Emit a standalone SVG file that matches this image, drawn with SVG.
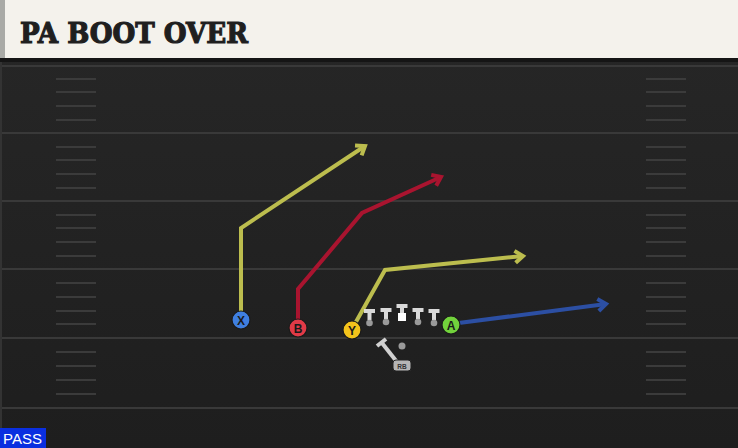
<svg xmlns="http://www.w3.org/2000/svg" width="738" height="448" viewBox="0 0 738 448">
<style>
.field{stroke:#393939;stroke-width:2}
.hash{stroke:#3b3b3b;stroke-width:2}
.route{fill:none;stroke-width:4;stroke-linejoin:miter}
.lbl{font-family:"Liberation Sans",Arial,sans-serif;font-weight:bold;font-size:12px;fill:#1a1a1a;text-anchor:middle}
.ol{fill:#d9d9d9}
.dot{fill:#9a9a9a}
</style>
<defs>
<marker id="ay" markerUnits="userSpaceOnUse" markerWidth="20" markerHeight="20" viewBox="-10 -10 20 20" refX="0" refY="0" orient="auto"><path d="M-8,-6 L0,0 L-8,6" fill="none" stroke="#bcbd4e" stroke-width="4"/></marker>
<marker id="ar" markerUnits="userSpaceOnUse" markerWidth="20" markerHeight="20" viewBox="-10 -10 20 20" refX="0" refY="0" orient="auto"><path d="M-8,-6 L0,0 L-8,6" fill="none" stroke="#a9142f" stroke-width="4"/></marker>
<marker id="ab" markerUnits="userSpaceOnUse" markerWidth="20" markerHeight="20" viewBox="-10 -10 20 20" refX="0" refY="0" orient="auto"><path d="M-8,-6 L0,0 L-8,6" fill="none" stroke="#2c4fa3" stroke-width="4"/></marker>
<linearGradient id="bg" x1="0" y1="0" x2="0" y2="1"><stop offset="0" stop-color="#272727"/><stop offset="1" stop-color="#1e1e1e"/></linearGradient>
</defs>
<rect x="0" y="0" width="738" height="448" fill="url(#bg)"/>
<rect x="0" y="58" width="738" height="4" fill="#151515"/>
<g id="header">
<rect x="0" y="0" width="738" height="58" fill="#f4f2ec"/>
<rect x="0" y="0" width="5" height="58" fill="#a9aaa6"/>
<text x="20" y="43" font-family="'DejaVu Serif',serif" font-weight="bold" font-size="28" fill="#1f1f1f" stroke="#1f1f1f" stroke-width="1.2" textLength="228" lengthAdjust="spacingAndGlyphs">PA BOOT OVER</text>
</g>
<g id="field">
<line class="field" x1="0" y1="66" x2="738" y2="66"/>
<line class="field" x1="0" y1="133" x2="738" y2="133"/>
<line class="field" x1="0" y1="201" x2="738" y2="201"/>
<line class="field" x1="0" y1="269" x2="738" y2="269"/>
<line class="field" x1="0" y1="338" x2="738" y2="338"/>
<line class="field" x1="0" y1="408" x2="738" y2="408"/>
<line x1="1" y1="62" x2="1" y2="448" stroke="#333" stroke-width="2"/>
<g id="hashes-left">
<line class="hash" x1="56" y1="79" x2="96" y2="79"/><line class="hash" x1="56" y1="92" x2="96" y2="92"/><line class="hash" x1="56" y1="106" x2="96" y2="106"/><line class="hash" x1="56" y1="120" x2="96" y2="120"/>
<line class="hash" x1="56" y1="147" x2="96" y2="147"/><line class="hash" x1="56" y1="160" x2="96" y2="160"/><line class="hash" x1="56" y1="174" x2="96" y2="174"/><line class="hash" x1="56" y1="188" x2="96" y2="188"/>
<line class="hash" x1="56" y1="215" x2="96" y2="215"/><line class="hash" x1="56" y1="228" x2="96" y2="228"/><line class="hash" x1="56" y1="242" x2="96" y2="242"/><line class="hash" x1="56" y1="256" x2="96" y2="256"/>
<line class="hash" x1="56" y1="283" x2="96" y2="283"/><line class="hash" x1="56" y1="297" x2="96" y2="297"/><line class="hash" x1="56" y1="311" x2="96" y2="311"/><line class="hash" x1="56" y1="324" x2="96" y2="324"/>
<line class="hash" x1="56" y1="352" x2="96" y2="352"/><line class="hash" x1="56" y1="366" x2="96" y2="366"/><line class="hash" x1="56" y1="380" x2="96" y2="380"/><line class="hash" x1="56" y1="394" x2="96" y2="394"/>
</g>
<g id="hashes-right">
<line class="hash" x1="646" y1="79" x2="686" y2="79"/><line class="hash" x1="646" y1="92" x2="686" y2="92"/><line class="hash" x1="646" y1="106" x2="686" y2="106"/><line class="hash" x1="646" y1="120" x2="686" y2="120"/>
<line class="hash" x1="646" y1="147" x2="686" y2="147"/><line class="hash" x1="646" y1="160" x2="686" y2="160"/><line class="hash" x1="646" y1="174" x2="686" y2="174"/><line class="hash" x1="646" y1="188" x2="686" y2="188"/>
<line class="hash" x1="646" y1="215" x2="686" y2="215"/><line class="hash" x1="646" y1="228" x2="686" y2="228"/><line class="hash" x1="646" y1="242" x2="686" y2="242"/><line class="hash" x1="646" y1="256" x2="686" y2="256"/>
<line class="hash" x1="646" y1="283" x2="686" y2="283"/><line class="hash" x1="646" y1="297" x2="686" y2="297"/><line class="hash" x1="646" y1="311" x2="686" y2="311"/><line class="hash" x1="646" y1="324" x2="686" y2="324"/>
<line class="hash" x1="646" y1="352" x2="686" y2="352"/><line class="hash" x1="646" y1="366" x2="686" y2="366"/><line class="hash" x1="646" y1="380" x2="686" y2="380"/><line class="hash" x1="646" y1="394" x2="686" y2="394"/>
</g>
</g>
<g id="connectors">
<polyline class="route" stroke="#bcbd4e" points="241,319 241,228 365,146" marker-end="url(#ay)"/>
<polyline class="route" stroke="#a9142f" points="298,328 298,289 362,213 441,177" marker-end="url(#ar)"/>
<polyline class="route" stroke="#bcbd4e" points="352,329 385,270 523,256" marker-end="url(#ay)"/>
<polyline class="route" stroke="#2c4fa3" points="451,324 606,304" marker-end="url(#ab)"/>
</g>
<g id="line">
<g id="lt"><rect class="ol" x="364" y="309" width="11" height="4"/><rect class="ol" x="367.5" y="311" width="4" height="9"/><circle class="dot" cx="369.5" cy="323" r="3.3"/></g>
<g id="lg"><rect class="ol" x="380.5" y="308" width="11" height="4"/><rect class="ol" x="384" y="310" width="4" height="9"/><circle class="dot" cx="386" cy="322" r="3.3"/></g>
<g id="c"><rect class="ol" x="396.5" y="304" width="11" height="4"/><rect class="ol" x="400" y="306" width="4" height="8"/><rect x="398" y="313" width="8" height="8" fill="#ffffff"/></g>
<g id="rg"><rect class="ol" x="412.5" y="308" width="11" height="4"/><rect class="ol" x="416" y="310" width="4" height="9"/><circle class="dot" cx="418" cy="322" r="3.3"/></g>
<g id="rt"><rect class="ol" x="428.5" y="309" width="11" height="4"/><rect class="ol" x="432" y="311" width="4" height="9"/><circle class="dot" cx="434" cy="323" r="3.3"/></g>
</g>
<g id="rb">
<line x1="377" y1="346" x2="386" y2="339" stroke="#d0d0d0" stroke-width="4"/>
<line x1="382" y1="343" x2="397" y2="362" stroke="#d0d0d0" stroke-width="4"/>
<circle class="dot" cx="402" cy="346" r="3.5"/>
<rect x="393" y="360" width="18" height="11" rx="3" fill="#b5b5b5" stroke="#222" stroke-width="1"/>
<text x="402" y="368.5" font-family="'Liberation Sans',Arial,sans-serif" font-size="6.5" font-weight="bold" fill="#333" text-anchor="middle">RB</text>
</g>
<g id="X"><circle cx="241" cy="320" r="9" fill="#3f7fe0" stroke="#1a1a1a" stroke-width="1.2"/><text class="lbl" x="241" y="324.5">X</text></g>
<g id="B"><circle cx="298" cy="328" r="9" fill="#e23a47" stroke="#1a1a1a" stroke-width="1.2"/><text class="lbl" x="298" y="332.5">B</text></g>
<g id="Y"><circle cx="352" cy="330" r="9" fill="#f3c31b" stroke="#1a1a1a" stroke-width="1.2"/><text class="lbl" x="352" y="334.5">Y</text></g>
<g id="A"><circle cx="451" cy="325" r="9" fill="#72d23c" stroke="#1a1a1a" stroke-width="1.2"/><text class="lbl" x="451" y="329.5">A</text></g>
<g id="pass">
<rect x="0" y="428" width="46" height="20" fill="#0a2fe0"/>
<text x="3" y="444" font-family="'Liberation Sans',Arial,sans-serif" font-size="15" fill="#ffffff">PASS</text>
</g>
</svg>
